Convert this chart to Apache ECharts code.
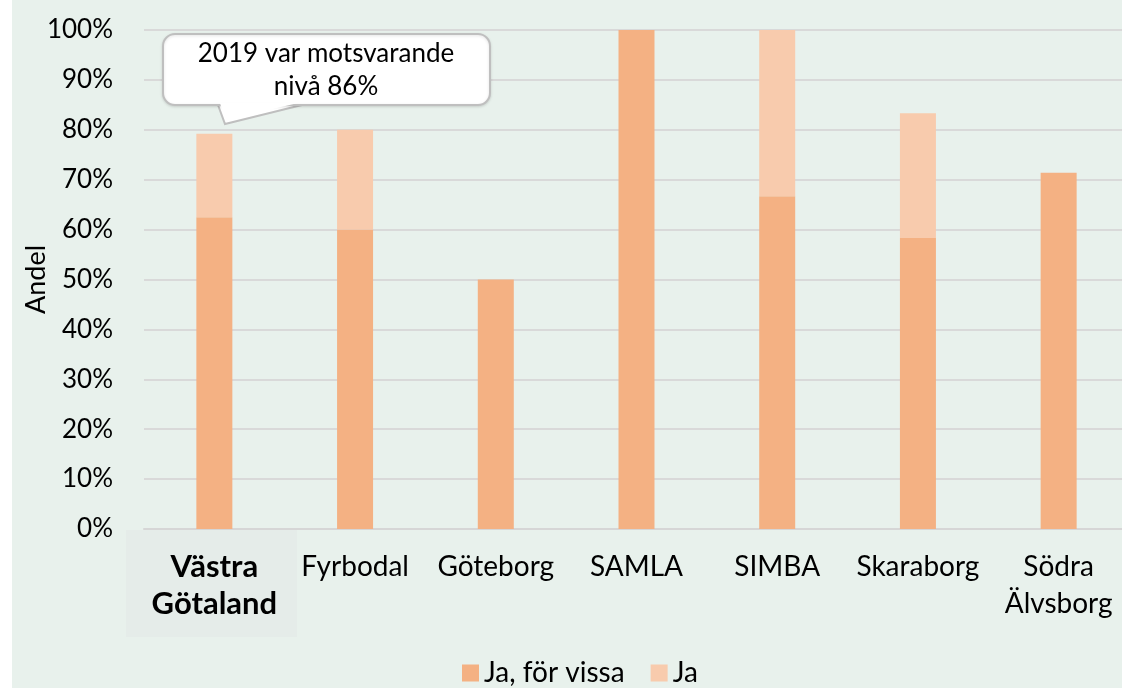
<!DOCTYPE html>
<html>
<head>
<meta charset="utf-8">
<script src="https://cdn.jsdelivr.net/npm/echarts@6/dist/echarts.min.js"></script>
<style>
html, body { margin: 0; padding: 0; background: #ffffff; }
#main { position: absolute; left: 12px; top: 0; width: 1110px; height: 688px; background: #E8F1EC; }
</style>
</head>
<body>
<div id="main"></div>
<script>
// data
var categories = ['Västra\nGötaland', 'Fyrbodal', 'Göteborg', 'SAMLA', 'SIMBA', 'Skaraborg', 'Södra\nÄlvsborg'];
var jaForVissa = [62.5, 60, 50, 100, 66.7, 58.3, 71.4];
var ja = [16.7, 20, 0, 0, 33.3, 25, 0];
var seriesNames = ['Ja, för vissa', 'Ja'];
var calloutText = '2019 var motsvarande\nnivå 86%';

var font = 'Lato, "Noto Sans", sans-serif';
var chart = echarts.init(document.getElementById('main'));

var option = {
	backgroundColor: 'transparent',
	textStyle: { fontFamily: font },
	grid: {
		left: 132,
		top: 30,
		width: 985,
		height: 499,
		containLabel: false,
		outerBoundsMode: 'none'
	},
	legend: {
		data: seriesNames,
		top: 654,
		left: 445,
		itemWidth: 17,
		itemHeight: 17,
		itemGap: 26,
		icon: 'rect',
		textStyle: { fontSize: 28, color: '#000', fontFamily: font }
	},
	xAxis: {
		type: 'category',
		data: categories,
		axisTick: { show: false },
		axisLine: { lineStyle: { color: '#D6D6D6', width: 2 } },
		axisLabel: {
			interval: 0,
			margin: 19,
			fontSize: 28,
			lineHeight: 37,
			color: '#000',
			fontFamily: font,
			formatter: function(v, i) {
				if (i === 0) return v.split('\n').map(function(s) { return '{b|' + s + '}'; }).join('\n');
				return v;
			},
			rich: {
				b: { fontSize: 31, fontWeight: 'bold', lineHeight: 37, color: '#000', fontFamily: font }
			}
		}
	},
	yAxis: {
		type: 'value',
		min: 0,
		max: 100,
		interval: 10,
		name: 'Andel',
		nameLocation: 'middle',
		nameGap: 94,
		nameRotate: 90,
		nameMoveOverlap: false,
		nameTextStyle: { fontSize: 27, color: '#000', fontFamily: font },
		axisLabel: {
			formatter: '{value}%',
			fontSize: 26,
			color: '#000',
			margin: 31,
			fontFamily: font
		},
		splitLine: { lineStyle: { color: '#D9D9D9', width: 2 } }
	},
	series: [
		{
			name: seriesNames[0],
			type: 'bar',
			stack: 'total',
			barWidth: 36,
			itemStyle: { color: '#F4B183' },
			data: jaForVissa
		},
		{
			name: seriesNames[1],
			type: 'bar',
			stack: 'total',
			barWidth: 36,
			itemStyle: { color: '#F8CBAD' },
			data: ja
		}
	],
	graphic: [
		{
			// bakgrund bakom första etiketten
			type: 'rect',
			z: -1,
			shape: { x: 114, y: 530, width: 171, height: 107 },
			style: { fill: '#E5ECE9' }
		},
		{
			// pratbubbla, spets
			type: 'polygon',
			z: 100,
			shape: { points: [[206, 105], [213, 124], [290, 105]] },
			style: { fill: '#ffffff', stroke: '#BFBFBF', lineWidth: 2 }
		},
		{
			type: 'rect',
			z: 101,
			shape: { x: 151, y: 34, width: 327, height: 71, r: 12 },
			style: {
				fill: '#ffffff',
				stroke: '#BFBFBF',
				lineWidth: 2,
				shadowBlur: 3,
				shadowColor: 'rgba(0,0,0,0.12)',
				shadowOffsetY: 1
			}
		},
		{
			type: 'polygon',
			z: 102,
			shape: { points: [[208, 103], [213.3, 120], [286, 103]] },
			style: { fill: '#ffffff' }
		},
		{
			type: 'text',
			z: 103,
			x: 314,
			y: 70,
			style: {
				text: calloutText,
				fontSize: 26,
				lineHeight: 33,
				fontFamily: font,
				fill: '#000',
				align: 'center',
				verticalAlign: 'middle'
			}
		}
	]
};

chart.setOption(option);
window.onresize = function() {
	chart.resize();
};
</script>
</body>
</html>
